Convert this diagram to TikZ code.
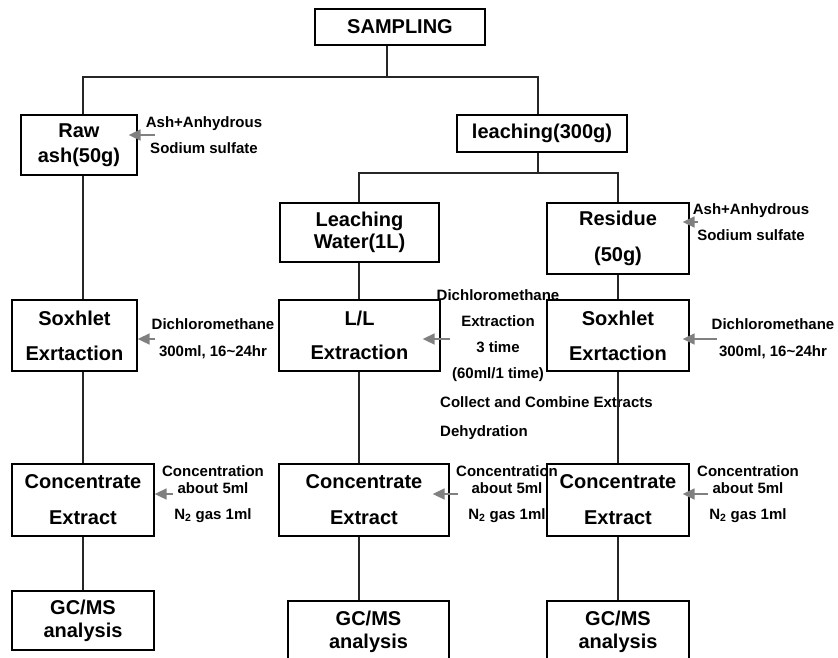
\documentclass[tikz,border=0pt]{standalone}
\usepackage{fontspec}
\setmainfont{Liberation Sans}
\usetikzlibrary{arrows.meta}
\begin{document}
\begin{tikzpicture}[x=1pt, y=-1pt]
\tikzstyle{stage} = [rectangle, draw = black, line width = 1.3pt, inner sep = 0pt, align = center, font = \fontsize{20}{24}\selectfont\bfseries]
\tikzstyle{note} = [inner sep = 0pt, align = center, font = \fontsize{15}{17}\selectfont\bfseries]
\tikzstyle{link} = [line width = 1.3pt, black!85]
\tikzstyle{feed} = [line width = 1.7pt, black!50, -{Triangle[length = 12pt, width = 11pt]}]
\useasboundingbox (0,0) rectangle (838,657);
\clip (0,0) rectangle (838,657);
% boxes
\node[stage, minimum width = 170, minimum height = 36](sampling) at (400,27){SAMPLING};
\node[stage, minimum width = 116, minimum height = 60](rawash) at (79,145){Raw\\[1pt]ash(50g)};
\node[stage, minimum width = 170, minimum height = 37](leaching) at (542,133.5){leaching(300g)};
\node[stage, minimum width = 159, minimum height = 59](water) at (359.5,232.5){Leaching\\[-2pt]Water(1L)};
\node[stage, minimum width = 142, minimum height = 71](residue) at (618,238.5){Residue\\[12pt](50g)};
\node[stage, minimum width = 125, minimum height = 71](soxhletA) at (74.5,335.5){Soxhlet\\[11pt]Exrtaction};
\node[stage, minimum width = 161, minimum height = 71](llext) at (359.5,335.5){L/L\\[10pt]Extraction};
\node[stage, minimum width = 142, minimum height = 71](soxhletC) at (618,335.5){Soxhlet\\[11pt]Exrtaction};
\node[stage, minimum width = 142, minimum height = 72](concA) at (83,500){Concentrate\\[12pt]Extract};
\node[stage, minimum width = 170, minimum height = 72](concB) at (364,500){Concentrate\\[12pt]Extract};
\node[stage, minimum width = 142, minimum height = 72](concC) at (618,500){Concentrate\\[12pt]Extract};
\node[stage, minimum width = 142, minimum height = 59](gcmsA) at (83,620.5){GC/MS\\[-1pt]analysis};
\node[stage, minimum width = 161, minimum height = 61](gcmsB) at (368.5,631.5){GC/MS\\[-1pt]analysis};
\node[stage, minimum width = 142, minimum height = 61](gcmsC) at (618,631.5){GC/MS\\[-1pt]analysis};
% side notes
\node[note](noteRaw) at (204,135){Ash+Anhydrous\\[9pt]Sodium sulfate};
\node[note](noteRes) at (751,222){Ash+Anhydrous\\[9pt]Sodium sulfate};
\node[note](noteSoxA) at (213,338.5){Dichloromethane\\[10pt]300ml, 16\textasciitilde24hr};
\node[note](noteSoxC) at (773,338.5){Dichloromethane\\[10pt]300ml, 16\textasciitilde24hr};
\node[note](noteLL) at (498,335.5){Dichloromethane\\[9pt]Extraction\\[9pt]3 time\\[9pt](60ml/1 time)};
\node[note, anchor = west, align = left](noteCollect) at (440,418){Collect and Combine Extracts\\[12pt]Dehydration};
\node[note](noteConcA) at (213,494){Concentration\\about 5ml\\[9pt]N\textsubscript{2} gas 1ml};
\node[note](noteConcB) at (507,494){Concentration\\about 5ml\\[9pt]N\textsubscript{2} gas 1ml};
\node[note](noteConcC) at (748,494){Concentration\\about 5ml\\[9pt]N\textsubscript{2} gas 1ml};
% tree lines
\coordinate (colA) at (83,0);
\coordinate (colB) at (359,0);
\coordinate (colC) at (618,0);
\coordinate (colL) at (538,0);
\coordinate (split1) at (387,77);
\coordinate (split2) at (538,173);
\draw[link] (sampling.south -| split1) -- (split1) -| (rawash.north -| colA);
\draw[link] (split1) -| (leaching.north -| colL);
\draw[link] (leaching.south -| split2) -- (split2) -| (water.north -| colB);
\draw[link] (split2) -| (residue.north -| colC);
\draw[link] (rawash.south -| colA) -- (soxhletA.north -| colA);
\draw[link] (soxhletA.south -| colA) -- (concA.north -| colA);
\draw[link] (concA.south -| colA) -- (gcmsA.north -| colA);
\draw[link] (water.south -| colB) -- (llext.north -| colB);
\draw[link] (llext.south -| colB) -- (concB.north -| colB);
\draw[link] (concB.south -| colB) -- (gcmsB.north -| colB);
\draw[link] (residue.south -| colC) -- (soxhletC.north -| colC);
\draw[link] (soxhletC.south -| colC) -- (concC.north -| colC);
\draw[link] (concC.south -| colC) -- (gcmsC.north -| colC);
% feed arrows
\coordinate (inRaw) at (155,135);
\coordinate (inRes) at (698,222);
\coordinate (inSoxA) at (155,339);
\coordinate (inLL) at (450,339);
\coordinate (inSoxC) at (717,339);
\coordinate (inConcA) at (173,494);
\coordinate (inConcB) at (458,494);
\coordinate (inConcC) at (708,494);
\draw[feed, shorten > = -9pt] (inRaw) -- (inRaw -| rawash.east);
\draw[feed, shorten > = -7pt] (inRes) -- (inRes -| residue.east);
\draw[feed] (inSoxA) -- (inSoxA -| soxhletA.east);
\draw[feed, shorten > = -18pt] (inLL) -- (inLL -| llext.east);
\draw[feed, shorten > = -7pt] (inSoxC) -- (inSoxC -| soxhletC.east);
\draw[feed] (inConcA) -- (inConcA -| concA.east);
\draw[feed, shorten > = -17pt] (inConcB) -- (inConcB -| concB.east);
\draw[feed, shorten > = -7pt] (inConcC) -- (inConcC -| concC.east);
\end{tikzpicture}
\end{document}
